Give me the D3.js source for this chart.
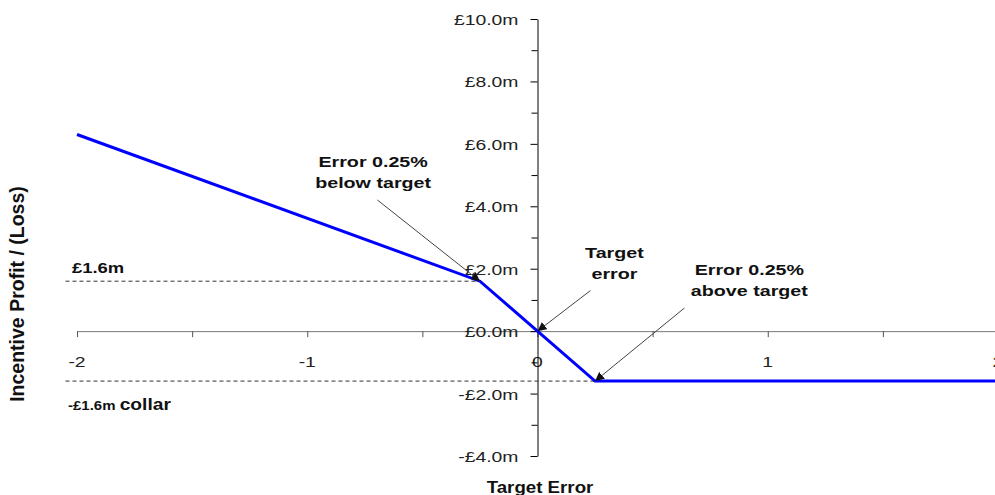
<!DOCTYPE html>
<html>
<head>
<meta charset="utf-8">
<script src="https://cdn.jsdelivr.net/npm/d3@7"></script>
<style>
  body { margin: 0; background: #fff; }
  text { font-family: "Liberation Sans", Arial, sans-serif; }
</style>
</head>
<body>
<div id="chart"></div>
<script>
// payoff curve: target error (%) vs incentive profit (£m)
const errors = [-2, -0.25, 0, 0.25, 2];
const profits = [6.3, 1.6, 0, -1.6, -1.6];
const yTicks = [-4, -2, 0, 2, 4, 6, 8, 10];
const yMinor = [-3, -1, 1, 3, 5, 7, 9];
const xLabels = [-2, -1, 0, 1, 2];
const xTicks = [-2, -1.5, -1, -0.5, 0, 0.5, 1, 1.5, 2];
const cap = 1.6;
const collarStart = -2.05;

// annotations: text lines, text position (data), arrow from -> to (data)
const notes = [
  { lines: ["Error 0.25%", "below target"], tx: -0.714, ty: 5.26, from: [-0.695, 4.2], to: [-0.25, 1.6] },
  { lines: ["Target", "error"], tx: 0.334, ty: 2.34, from: [0.23, 1.3], to: [0, 0] },
  { lines: ["Error 0.25%", "above target"], tx: 0.92, ty: 1.79, from: [0.638, 0.74], to: [0.25, -1.6] }
];

const width = 995;
const height = 495;
const stretch = 1.25;   // the text in the original looks wide

var svg = d3.select("#chart")
  .append("svg")
    .attr("width", width)
    .attr("height", height);

var x = d3.scaleLinear([-2, 2], [77, 998]);
var y = d3.scaleLinear([-4, 10], [456, 19]);

// text helper, stretched sideways
function label(px, py, anchor, size, sx, bold) {
  return svg.append("text")
      .attr("transform", `translate(${px},${py}) scale(${sx},1)`)
      .attr("text-anchor", anchor)
      .attr("font-size", size)
      .attr("font-weight", bold ? "bold" : "normal")
      .attr("fill", bold ? "#111" : "#222");
}

svg.append("defs").append("marker")
    .attr("id", "arrow")
    .attr("viewBox", "0 0 10 10")
    .attr("refX", 10)
    .attr("refY", 5)
    .attr("markerWidth", 9)
    .attr("markerHeight", 9)
    .attr("markerUnits", "userSpaceOnUse")
    .attr("orient", "auto")
  .append("path")
    .attr("d", "M0,0 L10,5 L0,10 z")
    .attr("fill", "#111");

// x axis through zero
var xAxis = svg.append("g")
    .attr("transform", `translate(0,${y(0)})`)
    .call(d3.axisBottom(x).tickValues(xTicks).tickSize(6).tickFormat(""));
xAxis.select(".domain").attr("stroke", "#777").attr("d", `M${x(-2)},0.5H${width}`);
xAxis.selectAll(".tick line").attr("stroke", "#555");

xLabels.forEach(d => {
  label(x(d), y(0) + 36, "middle", 15.5, stretch, false).text(d);
});

// y axis through zero
var yAxis = svg.append("g")
    .attr("transform", `translate(${x(0)},0)`)
    .call(d3.axisLeft(y).tickValues(yTicks).tickSize(7).tickSizeOuter(0).tickFormat(""));
yAxis.select(".domain").attr("stroke", "#000");
yAxis.selectAll(".tick line").attr("stroke", "#000");

svg.append("g")
    .attr("transform", `translate(${x(0)},0)`)
    .call(d3.axisLeft(y).tickValues(yMinor).tickSize(6).tickFormat(""))
    .call(g => g.select(".domain").remove())
    .selectAll(".tick line").attr("stroke", "#000");

yTicks.forEach(d => {
  label(x(0) - 19, y(d) + 6, "end", 15.5, stretch, false)
    .text((d < 0 ? "-" : "") + "£" + Math.abs(d).toFixed(1) + "m");
});

// cap and collar dashed lines
svg.append("line")
    .attr("x1", x(collarStart)).attr("x2", x(-0.25))
    .attr("y1", y(cap)).attr("y2", y(cap))
    .attr("stroke", "#333").attr("stroke-dasharray", "4,3");
svg.append("line")
    .attr("x1", x(collarStart)).attr("x2", x(0.25))
    .attr("y1", y(-cap)).attr("y2", y(-cap))
    .attr("stroke", "#333").attr("stroke-dasharray", "4,3");

// profit line
var line = d3.line()
    .x((d, i) => x(errors[i]))
    .y(d => y(d));
svg.append("path")
    .datum(profits)
    .attr("fill", "none")
    .attr("stroke", "#0000ff")
    .attr("stroke-width", 3)
    .attr("d", line);

// annotations
notes.forEach(n => {
  svg.append("line")
      .attr("x1", x(n.from[0])).attr("y1", y(n.from[1]))
      .attr("x2", x(n.to[0])).attr("y2", y(n.to[1]))
      .attr("stroke", "#444")
      .attr("marker-end", "url(#arrow)");
  var t = label(x(n.tx), y(n.ty), "middle", 15.5, 1.27, true);
  n.lines.forEach((l, i) => {
    t.append("tspan").attr("x", 0).attr("dy", i ? 21 : 0).text(l);
  });
});

// side labels
label(72, y(cap) - 8, "start", 15.5, 1.19, true).text("£1.6m");
var collar = label(68, y(-cap) + 29, "start", 16, 1.2, true);
collar.append("tspan").attr("font-size", 12.5).text("-£1.6m ");
collar.append("tspan").text("collar");

// axis titles
svg.append("text")
    .attr("transform", `translate(24,294) rotate(-90)`)
    .attr("text-anchor", "middle")
    .attr("font-size", 19.5).attr("font-weight", "bold").attr("fill", "#111")
    .text("Incentive Profit / (Loss)");
label(540, 493, "middle", 17, 1.1, true).text("Target Error");
</script>
</body>
</html>
